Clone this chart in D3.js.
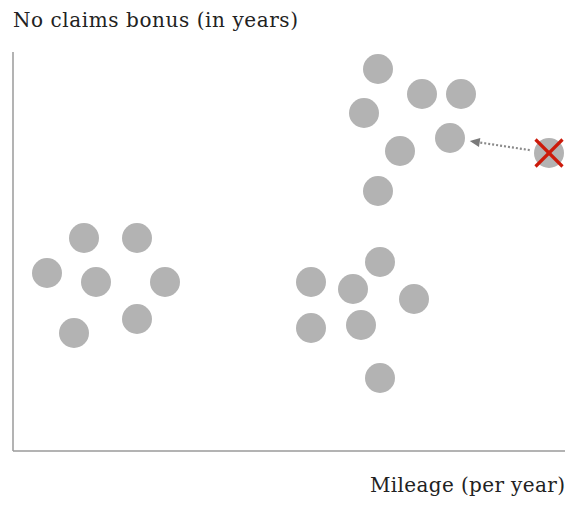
<!DOCTYPE html>
<html>
<head>
<meta charset="utf-8">
<script src="https://cdn.jsdelivr.net/npm/d3@7"></script>
<style>
  html, body { margin: 0; padding: 0; background: #fff; }
  svg { display: block; }
</style>
</head>
<body>
<svg id="chart" width="570" height="507"></svg>
<script>
// Mileage (per year) and no-claims-bonus values for each policy holder
const mileage = [71, 124, 34, 83, 152, 61, 124,
                 367, 298, 340, 401, 298, 348, 367,
                 365, 409, 448, 351, 437, 387, 365];
const bonus   = [213, 213, 178, 169, 169, 118, 132,
                 189, 169, 162, 152, 123, 126, 73,
                 382, 357, 357, 338, 313, 300, 260];
// The one policy holder flagged as an outlier, and the point it is reassigned to
const outlierMileage = [536];
const outlierBonus   = [298];
const targetIndex = 18;

const yTitle = "No claims bonus (in years)";
const xTitle = "Mileage (per year)";

const svg = d3.select("#chart");
const x = d3.scaleLinear().domain([0, 550]).range([13, 563]);
const y = d3.scaleLinear().domain([0, 400]).range([451, 51]);
const r = 15;

// axes: plain lines, no ticks
svg.append("line").attr("x1", x(0)).attr("x2", x(0)).attr("y1", 52).attr("y2", y(0))
  .attr("stroke", "#9a9a9a").attr("stroke-width", 1.5);
svg.append("line").attr("x1", x(0)).attr("x2", 565).attr("y1", y(0)).attr("y2", y(0))
  .attr("stroke", "#9a9a9a").attr("stroke-width", 1.5);

const pts = mileage.map((m, i) => ({ m, b: bonus[i] }));
svg.append("g").selectAll("circle").data(pts).join("circle")
  .attr("cx", d => x(d.m)).attr("cy", d => y(d.b)).attr("r", r)
  .attr("fill", "#b3b3b3");

// outlier marker with red cross
const ox = x(outlierMileage[0]), oy = y(outlierBonus[0]);
svg.append("circle").attr("cx", ox).attr("cy", oy).attr("r", r).attr("fill", "#b3b3b3");
const h = 13.5;
svg.append("g").attr("stroke", "#cc1a0a").attr("stroke-width", 3.2)
  .selectAll("line").data([[-h, -h, h, h], [-h, h, h, -h]]).join("line")
  .attr("x1", d => ox + d[0]).attr("y1", d => oy + d[1])
  .attr("x2", d => ox + d[2]).attr("y2", d => oy + d[3]);

// dotted arrow from outlier to its new neighbour
const tx = x(mileage[targetIndex]), ty = y(bonus[targetIndex]);
const dx = tx - ox, dy = ty - oy, len = Math.hypot(dx, dy);
const ux = dx / len, uy = dy / len;
const sx = ox + ux * 19.5, sy = oy + uy * 19.5;
const ex = tx - ux * 20, ey = ty - uy * 20;
const head = 10;
svg.append("line")
  .attr("x1", sx).attr("y1", sy).attr("x2", ex - ux * head).attr("y2", ey - uy * head)
  .attr("stroke", "#8a8a8a").attr("stroke-width", 2.2).attr("stroke-dasharray", "2,2");
const px = -uy, py = ux;
svg.append("path")
  .attr("d", `M${ex},${ey} L${ex - ux * head + px * 4.5},${ey - uy * head + py * 4.5} L${ex - ux * head - px * 4.5},${ey - uy * head - py * 4.5} Z`)
  .attr("fill", "#7a7a7a");

const font = "'DejaVu Serif', serif";
svg.append("text").attr("x", 13).attr("y", 27)
  .attr("font-family", font).attr("font-size", 20).attr("fill", "#222")
  .attr("textLength", 285).attr("lengthAdjust", "spacing").text(yTitle);
svg.append("text").attr("x", 370).attr("y", 492)
  .attr("font-family", font).attr("font-size", 20).attr("fill", "#222")
  .attr("textLength", 195).attr("lengthAdjust", "spacing").text(xTitle);
</script>
</body>
</html>
